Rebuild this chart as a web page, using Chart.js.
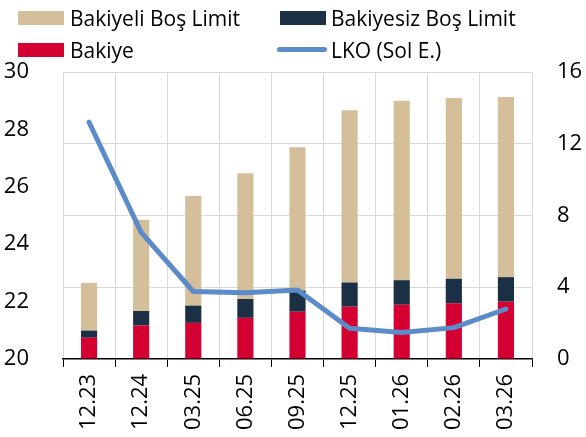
<!DOCTYPE html>
<html>
<head>
<meta charset="utf-8">
<script src="https://cdn.jsdelivr.net/npm/chart.js@4.4.1/dist/chart.umd.min.js"></script>
<style>
  html, body { margin: 0; padding: 0; background: #fff; }
  #wrap { position: relative; width: 586px; height: 437px; font-family: "Open Sans", sans-serif; }
  #chart { position: absolute; left: 0; top: 0; }
  .lg { position: absolute; height: 24px; line-height: 24px; font-size: 21px; color: #000; white-space: nowrap; }
  .lg .box { position: absolute; left: 0; top: 5px; width: 46px; height: 14px; }
  .lg .ln { position: absolute; left: 0; top: 9px; width: 50px; height: 5px; border-radius: 3px; background: #5b8bc8; }
  .lg span { position: absolute; top: 0; }
</style>
</head>
<body>
<div id="wrap">
  <canvas id="chart" width="586" height="437"></canvas>
  <div class="lg" style="left:18px; top:6px;"><div class="box" style="background:#d5bf9b"></div><span style="left:52px">Bakiyeli Boş Limit</span></div>
  <div class="lg" style="left:280px; top:6px;"><div class="box" style="background:#1c3045"></div><span style="left:51px">Bakiyesiz Boş Limit</span></div>
  <div class="lg" style="left:18px; top:38px;"><div class="box" style="background:#d50032"></div><span style="left:52px">Bakiye</span></div>
  <div class="lg" style="left:277px; top:38px;"><div class="ln"></div><span style="left:54px">LKO (Sol E.)</span></div>
</div>
<script>
"use strict";

// -----------------------------
// veri
// -----------------------------
const labels = ["12.23", "12.24", "03.25", "06.25", "09.25", "12.25", "01.26", "02.26", "03.26"];
const bakiye = [1.18, 1.86, 2.01, 2.29, 2.63, 2.91, 3.02, 3.1, 3.19];
const bakiyesizBos = [0.4, 0.81, 0.96, 1.05, 1.18, 1.35, 1.37, 1.37, 1.37];
const bakiyeliBos = [2.66, 5.09, 6.12, 7.01, 8.0, 9.6, 10.01, 10.08, 10.05];
const lko = [28.25, 24.41, 22.35, 22.31, 22.4, 21.07, 20.92, 21.09, 21.74];

const leftTicks = [20, 22, 24, 26, 28, 30];
const rightTicks = [0, 4, 8, 12, 16];

Chart.defaults.font.family = '"Open Sans", sans-serif';
Chart.defaults.font.size = 22;
Chart.defaults.color = "#000";

const barOpts = { yAxisID: "y1", stack: "s", order: 1, categoryPercentage: 1, barPercentage: 0.31 };

new Chart(document.getElementById("chart").getContext("2d"), {
  type: "bar",
  data: {
    labels,
    datasets: [
      { ...barOpts, label: "Bakiye", data: bakiye, backgroundColor: "#d50032" },
      { ...barOpts, label: "Bakiyesiz Boş Limit", data: bakiyesizBos, backgroundColor: "#1c3045" },
      { ...barOpts, label: "Bakiyeli Boş Limit", data: bakiyeliBos, backgroundColor: "#d5bf9b" },
      {
        type: "line",
        label: "LKO (Sol E.)",
        data: lko,
        yAxisID: "y",
        order: 0,
        borderColor: "#5b8bc8",
        borderWidth: 5,
        pointRadius: 0,
        tension: 0,
        borderJoinStyle: "round",
        borderCapStyle: "round",
      },
    ],
  },
  options: {
    responsive: false,
    animation: false,
    layout: { padding: { top: 72, left: 0, right: 0, bottom: 0 } },
    plugins: { legend: { display: false }, tooltip: { enabled: false } },
    scales: {
      x: {
        grid: { offset: true, color: "#d9d9d9", tickColor: "#000", tickLength: 8 },
        border: { color: "#000", width: 1.5 },
        ticks: { minRotation: 90, maxRotation: 90, padding: 7 },
        afterFit: (s) => { s.paddingLeft = 0; s.paddingRight = 0; },
      },
      y: {
        position: "left",
        min: 20,
        max: 30,
        afterBuildTicks: (ax) => { ax.ticks = leftTicks.map((v) => ({ value: v })); },
        afterFit: (s) => { s.width = 63; },
        grid: { display: false },
        border: { display: false },
        ticks: { padding: 26 },
      },
      y1: {
        position: "right",
        min: 0,
        max: 16,
        afterBuildTicks: (ax) => { ax.ticks = rightTicks.map((v) => ({ value: v })); },
        afterFit: (s) => { s.width = 54; },
        grid: { color: "#d9d9d9", drawTicks: false },
        border: { display: false },
        ticks: { padding: 25 },
      },
    },
  },
});
</script>
</body>
</html>
